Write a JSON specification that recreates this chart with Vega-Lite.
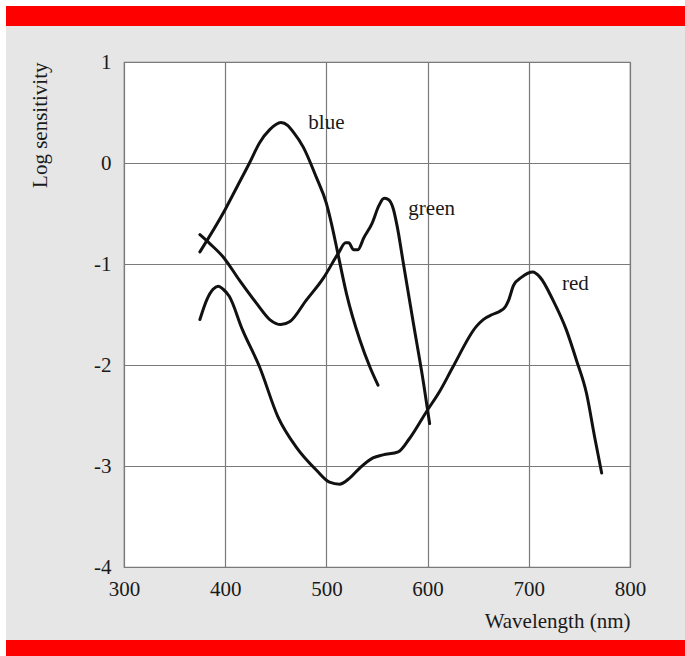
{
  "$schema": "https://vega.github.io/schema/vega-lite/v6.json",
  "width": 506,
  "height": 505,
  "autosize": {"type": "none"},
  "padding": {"left": 124, "top": 62, "right": 55, "bottom": 89},
  "background": "#e6e6e6",
  "config": {
    "view": {"fill": "white", "stroke": "#7a7a7a", "strokeWidth": 1.2},
    "axis": {
      "labelFont": "Liberation Serif",
      "labelFontSize": 21,
      "labelColor": "#1a1a1a",
      "titleFont": "Liberation Serif",
      "titleFontSize": 21,
      "titleFontWeight": "normal",
      "titleColor": "#1a1a1a",
      "grid": true,
      "gridColor": "#7a7a7a",
      "gridWidth": 1.2,
      "gridOpacity": 1,
      "ticks": false,
      "domain": false,
      "labelFlush": false,
      "labelOverlap": false,
      "labelBound": false,
      "titleAnchor": "end",
      "labelExpr": "'' + datum.value"
    },
    "axisX": {"labelPadding": 11, "titlePadding": 11},
    "axisY": {"labelPadding": 13, "titlePadding": 43}
  },
  "datasets": {
    "curves": [
      {"cone": "blue", "wl": 375, "v": -0.88},
      {"cone": "blue", "wl": 400, "v": -0.46},
      {"cone": "blue", "wl": 412, "v": -0.23},
      {"cone": "blue", "wl": 424, "v": 0.0},
      {"cone": "blue", "wl": 434, "v": 0.2},
      {"cone": "blue", "wl": 444, "v": 0.33},
      {"cone": "blue", "wl": 455, "v": 0.4},
      {"cone": "blue", "wl": 462, "v": 0.37},
      {"cone": "blue", "wl": 467, "v": 0.31},
      {"cone": "blue", "wl": 477, "v": 0.16},
      {"cone": "blue", "wl": 490, "v": -0.14},
      {"cone": "blue", "wl": 500, "v": -0.4},
      {"cone": "blue", "wl": 505, "v": -0.6},
      {"cone": "blue", "wl": 511, "v": -0.88},
      {"cone": "blue", "wl": 520, "v": -1.3},
      {"cone": "blue", "wl": 533, "v": -1.75},
      {"cone": "blue", "wl": 543, "v": -2.02},
      {"cone": "blue", "wl": 551, "v": -2.2},
      {"cone": "green", "wl": 375, "v": -0.71},
      {"cone": "green", "wl": 385, "v": -0.8},
      {"cone": "green", "wl": 398, "v": -0.93},
      {"cone": "green", "wl": 414, "v": -1.16},
      {"cone": "green", "wl": 431, "v": -1.39},
      {"cone": "green", "wl": 444, "v": -1.55},
      {"cone": "green", "wl": 455, "v": -1.6},
      {"cone": "green", "wl": 464, "v": -1.57},
      {"cone": "green", "wl": 480, "v": -1.36},
      {"cone": "green", "wl": 497, "v": -1.14},
      {"cone": "green", "wl": 512, "v": -0.89},
      {"cone": "green", "wl": 519, "v": -0.79},
      {"cone": "green", "wl": 522, "v": -0.79},
      {"cone": "green", "wl": 527, "v": -0.86},
      {"cone": "green", "wl": 531, "v": -0.86},
      {"cone": "green", "wl": 537, "v": -0.74},
      {"cone": "green", "wl": 545, "v": -0.6},
      {"cone": "green", "wl": 552, "v": -0.42},
      {"cone": "green", "wl": 557, "v": -0.35},
      {"cone": "green", "wl": 561, "v": -0.36},
      {"cone": "green", "wl": 566, "v": -0.45},
      {"cone": "green", "wl": 570, "v": -0.63},
      {"cone": "green", "wl": 576, "v": -0.99},
      {"cone": "green", "wl": 586, "v": -1.59},
      {"cone": "green", "wl": 596, "v": -2.18},
      {"cone": "green", "wl": 602, "v": -2.58},
      {"cone": "red", "wl": 375, "v": -1.55},
      {"cone": "red", "wl": 382, "v": -1.35},
      {"cone": "red", "wl": 388, "v": -1.25},
      {"cone": "red", "wl": 393, "v": -1.22},
      {"cone": "red", "wl": 398, "v": -1.25},
      {"cone": "red", "wl": 404, "v": -1.32},
      {"cone": "red", "wl": 417, "v": -1.65},
      {"cone": "red", "wl": 434, "v": -2.02},
      {"cone": "red", "wl": 452, "v": -2.51},
      {"cone": "red", "wl": 470, "v": -2.81},
      {"cone": "red", "wl": 490, "v": -3.04},
      {"cone": "red", "wl": 503, "v": -3.16},
      {"cone": "red", "wl": 513, "v": -3.18},
      {"cone": "red", "wl": 523, "v": -3.12},
      {"cone": "red", "wl": 533, "v": -3.02},
      {"cone": "red", "wl": 546, "v": -2.92},
      {"cone": "red", "wl": 556, "v": -2.89},
      {"cone": "red", "wl": 571, "v": -2.86},
      {"cone": "red", "wl": 582, "v": -2.73},
      {"cone": "red", "wl": 599, "v": -2.46},
      {"cone": "red", "wl": 612, "v": -2.26},
      {"cone": "red", "wl": 625, "v": -2.02},
      {"cone": "red", "wl": 648, "v": -1.62},
      {"cone": "red", "wl": 655, "v": -1.55},
      {"cone": "red", "wl": 664, "v": -1.5},
      {"cone": "red", "wl": 671, "v": -1.47},
      {"cone": "red", "wl": 677, "v": -1.42},
      {"cone": "red", "wl": 680, "v": -1.36},
      {"cone": "red", "wl": 685, "v": -1.21},
      {"cone": "red", "wl": 693, "v": -1.13},
      {"cone": "red", "wl": 704, "v": -1.08},
      {"cone": "red", "wl": 711, "v": -1.13},
      {"cone": "red", "wl": 724, "v": -1.36},
      {"cone": "red", "wl": 737, "v": -1.65},
      {"cone": "red", "wl": 747, "v": -1.95},
      {"cone": "red", "wl": 757, "v": -2.28},
      {"cone": "red", "wl": 765, "v": -2.71},
      {"cone": "red", "wl": 772, "v": -3.07}
    ],
    "labels": [
      {"label": "blue", "wl": 500, "v": 0.4},
      {"label": "green", "wl": 604, "v": -0.46},
      {"label": "red", "wl": 746, "v": -1.2}
    ]
  },
  "layer": [
    {
      "data": {"values": [{}]},
      "mark": {"type": "rect", "fill": "#ff0000", "clip": false},
      "encoding": {
        "x": {"datum": 183.4, "type": "quantitative", "scale": {"domain": [300, 800], "nice": false, "zero": false}, "axis": {"title": "Wavelength (nm)", "values": [300, 400, 500, 600, 700, 800]}},
        "x2": {"datum": 870},
        "y": {"datum": 1.3564, "type": "quantitative", "scale": {"domain": [-4, 1], "nice": false, "zero": false}, "axis": {"title": "Log sensitivity", "values": [-4, -3, -2, -1, 0, 1]}},
        "y2": {"datum": 1.5545}
      }
    },
    {
      "data": {"values": [{}]},
      "mark": {"type": "rect", "fill": "#ff0000", "clip": false},
      "encoding": {
        "x": {"datum": 183.4, "type": "quantitative", "scale": {"domain": [300, 800], "nice": false, "zero": false}, "axis": {"title": "Wavelength (nm)", "values": [300, 400, 500, 600, 700, 800]}},
        "x2": {"datum": 870},
        "y": {"datum": -4.7228, "type": "quantitative", "scale": {"domain": [-4, 1], "nice": false, "zero": false}, "axis": {"title": "Log sensitivity", "values": [-4, -3, -2, -1, 0, 1]}},
        "y2": {"datum": -5.1}
      }
    },
    {
      "data": {"values": [{}]},
      "mark": {"type": "rect", "fill": "#ffffff", "clip": false},
      "encoding": {
        "x": {"datum": 170, "type": "quantitative", "scale": {"domain": [300, 800], "nice": false, "zero": false}, "axis": {"title": "Wavelength (nm)", "values": [300, 400, 500, 600, 700, 800]}},
        "x2": {"datum": 870},
        "y": {"datum": 1.5545, "type": "quantitative", "scale": {"domain": [-4, 1], "nice": false, "zero": false}, "axis": {"title": "Log sensitivity", "values": [-4, -3, -2, -1, 0, 1]}},
        "y2": {"datum": 1.75}
      }
    },
    {
      "data": {"values": [{}]},
      "mark": {"type": "rect", "fill": "#ffffff", "clip": false},
      "encoding": {
        "x": {"datum": 170, "type": "quantitative", "scale": {"domain": [300, 800], "nice": false, "zero": false}, "axis": {"title": "Wavelength (nm)", "values": [300, 400, 500, 600, 700, 800]}},
        "x2": {"datum": 183.4},
        "y": {"datum": -5.1, "type": "quantitative", "scale": {"domain": [-4, 1], "nice": false, "zero": false}, "axis": {"title": "Log sensitivity", "values": [-4, -3, -2, -1, 0, 1]}},
        "y2": {"datum": 1.75}
      }
    },
    {
      "data": {"name": "curves"},
      "mark": {"type": "line", "color": "#111111", "strokeWidth": 3, "interpolate": "monotone", "strokeCap": "round", "strokeJoin": "round"},
      "encoding": {
        "x": {"field": "wl", "type": "quantitative", "scale": {"domain": [300, 800], "nice": false, "zero": false}, "axis": {"title": "Wavelength (nm)", "values": [300, 400, 500, 600, 700, 800]}},
        "y": {"field": "v", "type": "quantitative", "scale": {"domain": [-4, 1], "nice": false, "zero": false}, "axis": {"title": "Log sensitivity", "values": [-4, -3, -2, -1, 0, 1]}},
        "detail": {"field": "cone"}
      }
    },
    {
      "data": {"name": "labels"},
      "mark": {"type": "text", "font": "Liberation Serif", "fontSize": 21, "color": "#1a1a1a", "baseline": "middle", "align": "center"},
      "encoding": {
        "x": {"field": "wl", "type": "quantitative", "scale": {"domain": [300, 800], "nice": false, "zero": false}, "axis": {"title": "Wavelength (nm)", "values": [300, 400, 500, 600, 700, 800]}},
        "y": {"field": "v", "type": "quantitative", "scale": {"domain": [-4, 1], "nice": false, "zero": false}, "axis": {"title": "Log sensitivity", "values": [-4, -3, -2, -1, 0, 1]}},
        "text": {"field": "label"}
      }
    }
  ]
}
